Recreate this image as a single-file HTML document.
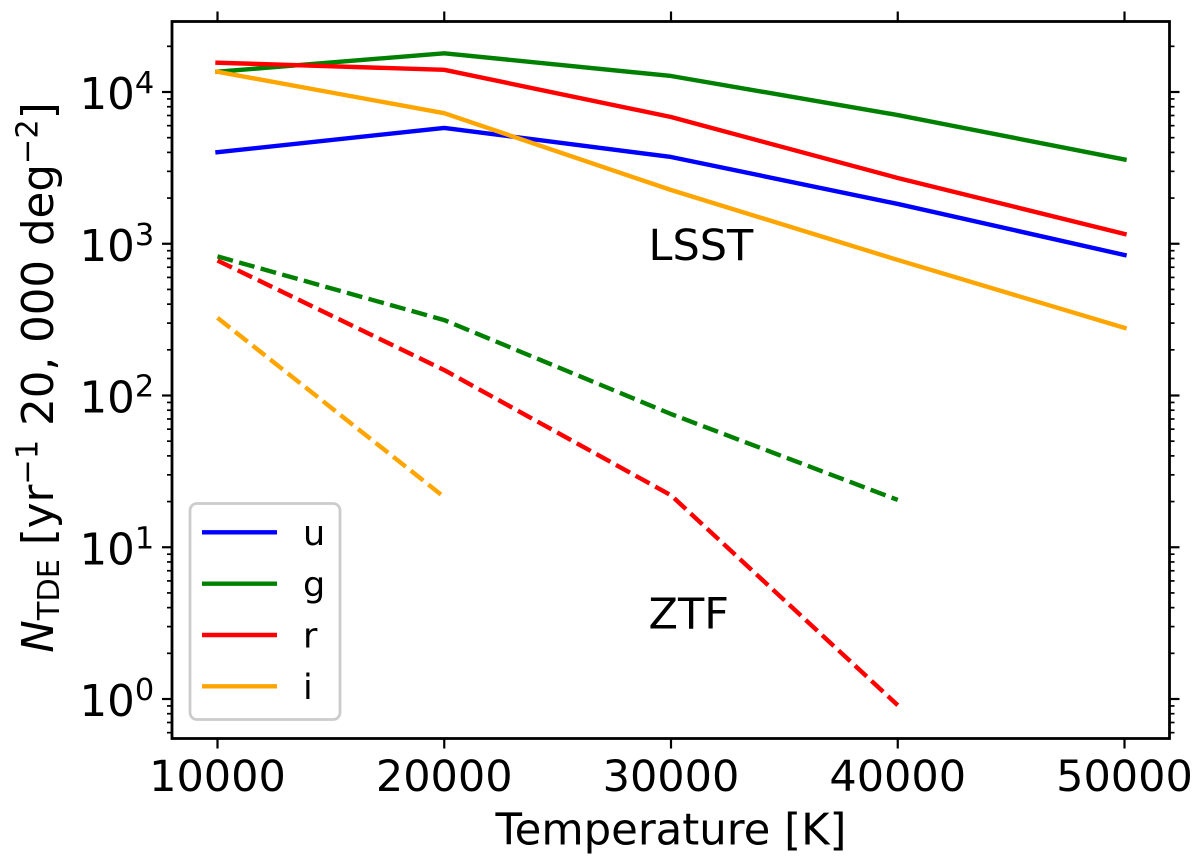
<!DOCTYPE html>
<html>
<head>
<meta charset="utf-8">
<style>
html,body{margin:0;padding:0;background:#fff;}
svg{display:block;}
text{font-family:"DejaVu Sans","Liberation Sans",sans-serif;fill:#000;}
</style>
</head>
<body>
<svg id="chart" xmlns="http://www.w3.org/2000/svg" width="1200" height="860" viewBox="0 0 1200 860">
  <rect x="0" y="0" width="1200" height="860" fill="#fff"/>
  <g id="series"></g>
  <g id="ticks"></g>
  <rect x="172" y="21.5" width="997.5" height="717" fill="none" stroke="#000" stroke-width="2.8"/>
  <text x="648.5" y="260" font-size="43">LSST</text>
  <text x="648.5" y="628.5" font-size="43">ZTF</text>
  <g id="legend">
    <rect x="190" y="503.5" width="150" height="216" rx="7" ry="7" fill="#fff" fill-opacity="0.8" stroke="#ccc" stroke-width="2.8"/>
  </g>
  <text x="671" y="844.5" font-size="43.4" text-anchor="middle">Temperature [K]</text>
  <text transform="translate(53,377.5) rotate(-90)" font-size="43.5" text-anchor="middle"><tspan font-style="italic">N</tspan><tspan font-size="30.4" dy="6">TDE</tspan><tspan dy="-6"> [yr</tspan><tspan font-size="30.4" dy="-15.5">−1</tspan><tspan dy="15.5"> 20, 000 deg</tspan><tspan font-size="30.4" dy="-15.5">−2</tspan><tspan dy="15.5">]</tspan></text>
</svg>
<script>
const temperatures = [10000, 20000, 30000, 40000, 50000];
const xTickLabels = ["10000", "20000", "30000", "40000", "50000"];
const yTickExponents = [0, 1, 2, 3, 4];
const bandNames = ["u", "g", "r", "i"];
const bandColors = ["#0000ff", "#008000", "#ff0000", "#ffa500"];
const lsstU = [4010, 5800, 3730, 1830, 843];
const lsstG = [13600, 18000, 12750, 7050, 3590];
const lsstR = [15600, 14000, 6840, 2713, 1160];
const lsstI = [13600, 7250, 2260, 782, 279];
const ztfG = [825, 314, 75.5, 20.5];
const ztfR = [775, 147, 22, 0.91];
const ztfI = [325, 21.4];

const SVGNS = "http://www.w3.org/2000/svg";
function xScale(t) { return 217.5 + (t - 10000) * (1124.5 - 217.5) / 40000; }
function yScale(v) { return 699 - Math.log10(v) * 151.75; }
const plotTop = 21.5;
const plotBottom = 738.5;
const plotLeft = 172;
const plotRight = 1169.5;

function make(tag, attrs, parent) {
  const el = document.createElementNS(SVGNS, tag);
  for (const k in attrs) el.setAttribute(k, attrs[k]);
  parent.appendChild(el);
  return el;
}

const seriesGroup = document.getElementById("series");
function drawSeries(values, color, dashed, name) {
  const pts = values.map((v, i) => xScale(temperatures[i]).toFixed(2) + "," + yScale(v).toFixed(2)).join(" ");
  const line = make("polyline", {
    points: pts, fill: "none", stroke: color, "stroke-width": 4.4,
    "stroke-linejoin": "round",
    "stroke-linecap": dashed ? "butt" : "square",
    "stroke-dasharray": dashed ? "16 6.4" : "none"
  }, seriesGroup);
  
  
}
drawSeries(lsstU, bandColors[0], false, "lsst-u-line");
drawSeries(lsstG, bandColors[1], false, "lsst-g-line");
drawSeries(lsstR, bandColors[2], false, "lsst-r-line");
drawSeries(lsstI, bandColors[3], false, "lsst-i-line");
drawSeries(ztfG, bandColors[1], true, "ztf-g-line");
drawSeries(ztfR, bandColors[2], true, "ztf-r-line");
drawSeries(ztfI, bandColors[3], true, "ztf-i-line");

const tickGroup = document.getElementById("ticks");
function tick(x1, y1, x2, y2, w, name) {
  const t = make("line", { x1: x1, y1: y1, x2: x2, y2: y2, stroke: "#000", "stroke-width": w }, tickGroup);
  
  
}
temperatures.forEach((t, i) => {
  const x = xScale(t);
  tick(x, plotBottom, x, plotBottom + 10, 2.2, "x-tick");
  tick(x, plotTop, x, plotTop - 10, 2.2, "x-tick-top");
  const lab = make("text", { x: x, y: 791, "font-size": 43, "text-anchor": "middle" }, tickGroup);
  lab.textContent = xTickLabels[i];
  
  
});
for (let e = -1; e <= 4; e++) {
  for (let m = 1; m <= 9; m++) {
    const y = yScale(m * Math.pow(10, e));
    if (y < plotTop || y > plotBottom) continue;
    const len = m === 1 ? 10 : 5;
    const w = m === 1 ? 2.2 : 1.7;
    tick(plotLeft, y, plotLeft - len, y, w, m === 1 ? "y-tick-major" : "y-tick-minor");
    tick(plotRight, y, plotRight + len, y, w, m === 1 ? "y-tick-major-right" : "y-tick-minor-right");
  }
}
yTickExponents.forEach(e => {
  const y = yScale(Math.pow(10, e));
  const lab = make("text", { x: 79.5, y: y + 17, "font-size": 43.5 }, tickGroup);
  
  
  const base = make("tspan", {}, lab);
  base.textContent = "10";
  const sup = make("tspan", { "font-size": 30.4, dy: -16 }, lab);
  sup.textContent = String(e);
});

const legendGroup = document.getElementById("legend");
bandNames.forEach((b, i) => {
  const y = 532.3 + i * 51.35;
  const ln = make("line", { x1: 202, y1: y, x2: 277, y2: y, stroke: bandColors[i], "stroke-width": 4.4 }, legendGroup);
  
  
  const tx = make("text", { x: 303, y: y + 12.7, "font-size": 35 }, legendGroup);
  tx.textContent = b;
  
  
});
</script>
</body>
</html>
